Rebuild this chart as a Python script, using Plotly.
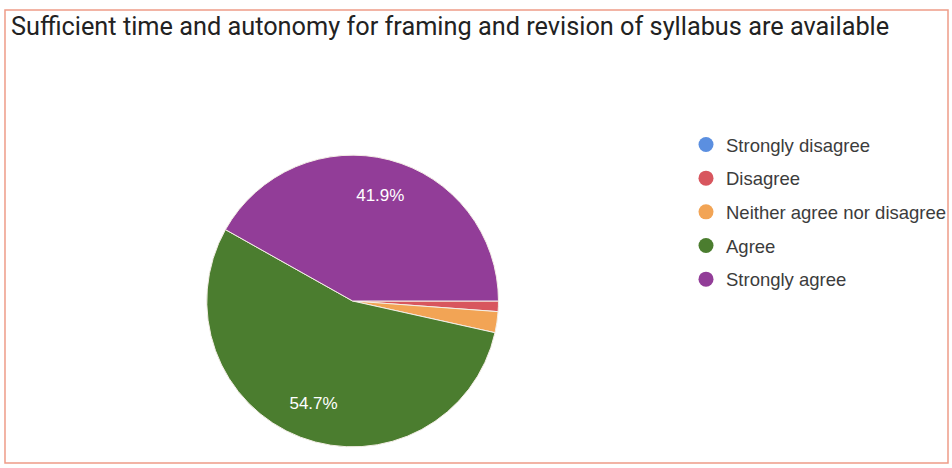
import plotly.graph_objects as go

title_text = "Sufficient time and autonomy for framing and revision of syllabus are available"
categories = ["Strongly disagree", "Disagree", "Neither agree nor disagree", "Agree", "Strongly agree"]
counts = [0, 1, 2, 47, 36]
colors = ["#5b8fe0", "#d8565e", "#f2a455", "#4b7d2f", "#923d98"]
show_label = ["", "", "", "%{percent:.1%}", "%{percent:.1%}"]

W, H = 952, 468
pie_domain = dict(x=[(353 - 146) / W, (353 + 146) / W], y=[1 - 450 / H, 1 - 152 / H])

fig = go.Figure()
# visible pie
fig.add_trace(go.Pie(
    labels=categories, values=counts, sort=False, direction="clockwise", rotation=90,
    marker=dict(colors=colors, line=dict(color="#f4eee6", width=1)),
    textinfo="none", showlegend=False, hoverinfo="label+percent",
    domain=pie_domain,
))
# transparent ring carrying the percentage labels further out, like the original
fig.add_trace(go.Pie(
    labels=categories, values=counts, sort=False, direction="clockwise", rotation=90,
    hole=0.5,
    marker=dict(colors=["rgba(0,0,0,0)"] * len(categories), line=dict(width=0)),
    texttemplate=show_label, textposition="inside",
    textfont=dict(family="Liberation Sans, Arial", size=17, color="#ffffff"),
    insidetextorientation="horizontal",
    showlegend=False, hoverinfo="skip",
    domain=pie_domain,
))
for i, (cat, col) in enumerate(zip(categories, colors)):
    fig.add_trace(go.Scatter(
        x=[None], y=[None], mode="markers", name=cat, legendgroup=f"g{i}",
        marker=dict(color=col, size=15, symbol="circle"), showlegend=True,
    ))

fig.update_layout(
    width=W, height=H, margin=dict(l=0, r=0, t=0, b=0),
    paper_bgcolor="white", plot_bgcolor="white",
    xaxis=dict(visible=False), yaxis=dict(visible=False),
    legend=dict(x=687 / W, y=1 - 126 / H, xanchor="left", yanchor="top",
                font=dict(family="Liberation Sans, Arial", size=18.5, color="#3c3c3c"),
                tracegroupgap=6.6, bgcolor="rgba(0,0,0,0)"),
    annotations=[dict(text=title_text, x=9 / W, y=1 - 10 / H, xref="paper", yref="paper",
                      xanchor="left", yanchor="top", showarrow=False,
                      font=dict(family="Roboto", size=25.3, color="#222222"))],
    shapes=[dict(type="rect", xref="paper", yref="paper", x0=5 / W, x1=949 / W,
                 y0=1 - 463 / H, y1=1 - 10 / H, line=dict(color="#ee9c88", width=1.5))],
)
fig.write_html("out.html", config={"displayModeBar": False},
               post_script="document.body.style.margin='0';")
